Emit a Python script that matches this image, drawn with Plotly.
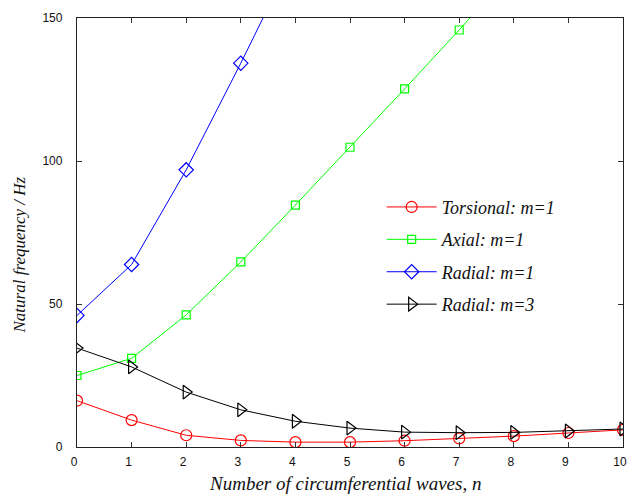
import plotly.graph_objects as go

n_all = [0, 1, 2, 3, 4, 5, 6, 7, 8, 9, 10]
torsional_m1 = [16.2, 9.4, 4.1, 2.3, 1.7, 1.7, 2.2, 3.0, 3.8, 4.9, 6.0]
radial_m3 = [34.6, 28.0, 19.2, 13.0, 9.0, 6.6, 5.2, 5.0, 5.1, 5.6, 6.3]
n_axial = [0, 1, 2, 3, 4, 5, 6, 7, 8]
axial_m1 = [25.0, 31.0, 46.2, 64.7, 84.6, 104.8, 125.2, 145.8, 167.0]
n_radial1 = [0, 1, 2, 3, 4]
radial_m1 = [46.0, 63.8, 96.9, 134.2, 173.0]

x_ticks = list(range(0, 11))
y_ticks = [0, 50, 100, 150]

series = [
    ("Torsional: m=1", n_all, torsional_m1, "#FF0000", "circle-open", 11),
    ("Axial: m=1", n_axial, axial_m1, "#00FF00", "square-open", 8),
    ("Radial: m=1", n_radial1, radial_m1, "#0000FF", "diamond-open", 11),
    ("Radial: m=3", n_all, radial_m3, "#000000", "triangle-right-open", 12),
]

fig = go.Figure()
for i, (name, xs, ys, col, sym, sz) in enumerate(series):
    fig.add_trace(go.Scatter(
        x=xs, y=ys, name=f"<i>{name}</i>", mode="lines+markers",
        legendgroup=f"g{i}",
        line=dict(color=col, width=1),
        marker=dict(symbol=sym, size=sz, color=col, line=dict(color=col, width=1.2)),
        cliponaxis=True,
    ))

axis_common = dict(
    showline=True, linecolor="#222222", linewidth=1.3, mirror="ticks",
    ticks="inside", ticklen=5, tickcolor="#333333", tickwidth=1,
    showgrid=False, zeroline=False, automargin=False,
    ticklabeloverflow="allow",
    tickfont=dict(family="Liberation Sans, Arial, sans-serif", size=12, color="#111111"),
)

fig.update_xaxes(range=[0, 10], tickvals=x_ticks, ticktext=[str(v) for v in x_ticks],
                 ticklabelstandoff=3, ticklabelshift=-3, **axis_common)
fig.update_yaxes(range=[0, 150], tickvals=y_ticks, ticktext=[str(v) for v in y_ticks],
                 ticklabelstandoff=11, **axis_common)

fig.add_annotation(
    text="<i>Natural frequency / Hz</i>", textangle=-90,
    xref="paper", yref="paper", x=-0.105, y=0.448,
    xanchor="center", yanchor="middle", showarrow=False,
    font=dict(family="Liberation Serif, Times New Roman, serif", size=17, color="#111111"),
)
fig.add_annotation(
    text="<i>Number of circumferential waves, n</i>",
    xref="paper", yref="paper", x=0.49, y=-0.084,
    xanchor="center", yanchor="middle", showarrow=False,
    font=dict(family="Liberation Serif, Times New Roman, serif", size=19, color="#111111"),
)

fig.update_layout(
    width=628, height=494,
    margin=dict(l=77, r=5, t=18, b=47),
    paper_bgcolor="white", plot_bgcolor="white",
    font=dict(family="Liberation Serif, Times New Roman, serif"),
    showlegend=True,
    legend=dict(
        x=0.558, y=0.602, xanchor="left", yanchor="top",
        bgcolor="rgba(0,0,0,0)", borderwidth=0,
        font=dict(family="Liberation Serif, Times New Roman, serif", size=18, color="#111111"),
        itemwidth=50, traceorder="grouped", tracegroupgap=6,
    ),
)

fig.write_html("out.html", config={"displayModeBar": False},
               post_script="document.body.style.margin='0';document.body.style.overflow='hidden';")
